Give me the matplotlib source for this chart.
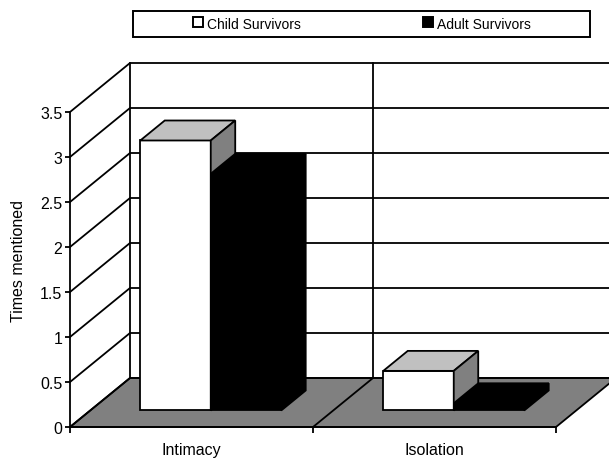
import matplotlib
matplotlib.use("Agg")
import matplotlib.pyplot as plt
from matplotlib.patches import Polygon, Rectangle

# data
categories = ["Intimacy", "Isolation"]
series_names = ["Child Survivors", "Adult Survivors"]
child_values = [3.0, 0.44]
adult_values = [2.63, 0.08]
y_ticks = [0, 0.5, 1, 1.5, 2, 2.5, 3, 3.5]
y_tick_labels = ["0", "0.5", "1", "1.5", "2", "2.5", "3", "3.5"]

W, H = 609, 460
plt.rcParams['font.family'] = ['Liberation Sans', 'DejaVu Sans']

fig = plt.figure(figsize=(W / 100, H / 100), dpi=100)
# front plane of the 3d box, in pixels
left, right, bottom, top = 70, 556, 428, 113
ax = fig.add_axes([left / W, 1 - bottom / H, (right - left) / W, (bottom - top) / H])
n = len(categories)
ymax = y_ticks[-1]
ax.set_xlim(0, n)
ax.set_ylim(0, ymax)

# depth vector (full depth) converted to data units
px_x = (right - left) / n
px_y = (bottom - top) / ymax
DX = 60 / px_x
DY = 49 / px_y


def proj(x, y, z):
    return (x + z * DX, y + z * DY)


LW = 1.3
GRAY = "#808080"
LIGHT = "#c0c0c0"

# floor
floor = [proj(0, 0, 0), proj(n, 0, 0), proj(n, 0, 1), proj(0, 0, 1)]
ax.add_patch(Polygon(floor, closed=True, facecolor=GRAY, edgecolor="black",
                     lw=LW, zorder=1, clip_on=False))
# divider lines on floor
for c in range(1, n):
    p0, p1 = proj(c, 0, 0), proj(c, 0, 1)
    ax.plot([p0[0], p1[0]], [p0[1], p1[1]], color="black", lw=LW, zorder=2, clip_on=False)

# side wall + back wall grid
for v in y_ticks:
    a, b, c2 = proj(0, v, 0), proj(0, v, 1), proj(n, v, 1)
    ax.plot([a[0], b[0], c2[0]], [a[1], b[1], c2[1]], color="black", lw=LW,
            zorder=2, clip_on=False)
for c in range(0, n + 1):
    p0, p1 = proj(c, 0, 1), proj(c, ymax, 1)
    ax.plot([p0[0], p1[0]], [p0[1], p1[1]], color="black", lw=LW, zorder=2, clip_on=False)

# bars
bar_off = 0.206
bar_w = 0.29
z0, z1 = 0.337, 0.745


def draw_bar(x0, v, front, topc, side, zo):
    x1 = x0 + bar_w
    faces = [
        ([proj(x0, 0, z0), proj(x1, 0, z0), proj(x1, v, z0), proj(x0, v, z0)], front),
        ([proj(x0, v, z0), proj(x1, v, z0), proj(x1, v, z1), proj(x0, v, z1)], topc),
        ([proj(x1, 0, z0), proj(x1, 0, z1), proj(x1, v, z1), proj(x1, v, z0)], side),
    ]
    for pts, col in faces:
        ax.add_patch(Polygon(pts, closed=True, facecolor=col, edgecolor="black",
                             lw=LW, zorder=zo, clip_on=False, joinstyle="miter"))


for i in range(n):
    draw_bar(i + bar_off, child_values[i], "white", LIGHT, GRAY, 3)
    draw_bar(i + bar_off + bar_w, adult_values[i], "black", "black", "black", 4)

# axes styling
for s in ["top", "right"]:
    ax.spines[s].set_visible(False)
ax.spines["left"].set_linewidth(LW)
ax.spines["bottom"].set_linewidth(LW)
ax.patch.set_alpha(0)
ax.set_yticks(y_ticks)
ax.set_yticklabels(y_tick_labels)
ax.set_xticks(range(n + 1))
ax.set_xticklabels([])
ax.set_xticks([i + 0.5 for i in range(n)], minor=True)
ax.set_xticklabels(categories, minor=True)
ax.tick_params(axis="y", direction="out", length=3.5, width=LW, labelsize=11.5, pad=2)
ax.tick_params(axis="x", which="major", direction="out", length=4, width=LW)
ax.tick_params(axis="x", which="minor", length=0, labelsize=11.5, pad=11)

fig.text(19 / W, 1 - 261 / H, "Times mentioned", rotation=90, ha="center",
         va="center", fontsize=11.5)

# legend box drawn by hand to match the layout
box_l, box_t, box_r, box_b = 133, 12, 590, 38
fig.patches.append(Rectangle((box_l / W, 1 - box_b / H), (box_r - box_l) / W,
                             (box_b - box_t) / H, transform=fig.transFigure,
                             facecolor="white", edgecolor="black", lw=1.4))
mark_x = [193, 423]
mark_col = ["white", "black"]
for name, mx, col in zip(series_names, mark_x, mark_col):
    fig.patches.append(Rectangle((mx / W, 1 - 28 / H), 10 / W, 10 / H,
                                 transform=fig.transFigure, facecolor=col,
                                 edgecolor="black", lw=1.4))
    fig.text((mx + 14) / W, 1 - 25 / H, name, ha="left", va="center", fontsize=10)

fig.savefig("out.png", dpi=100)
